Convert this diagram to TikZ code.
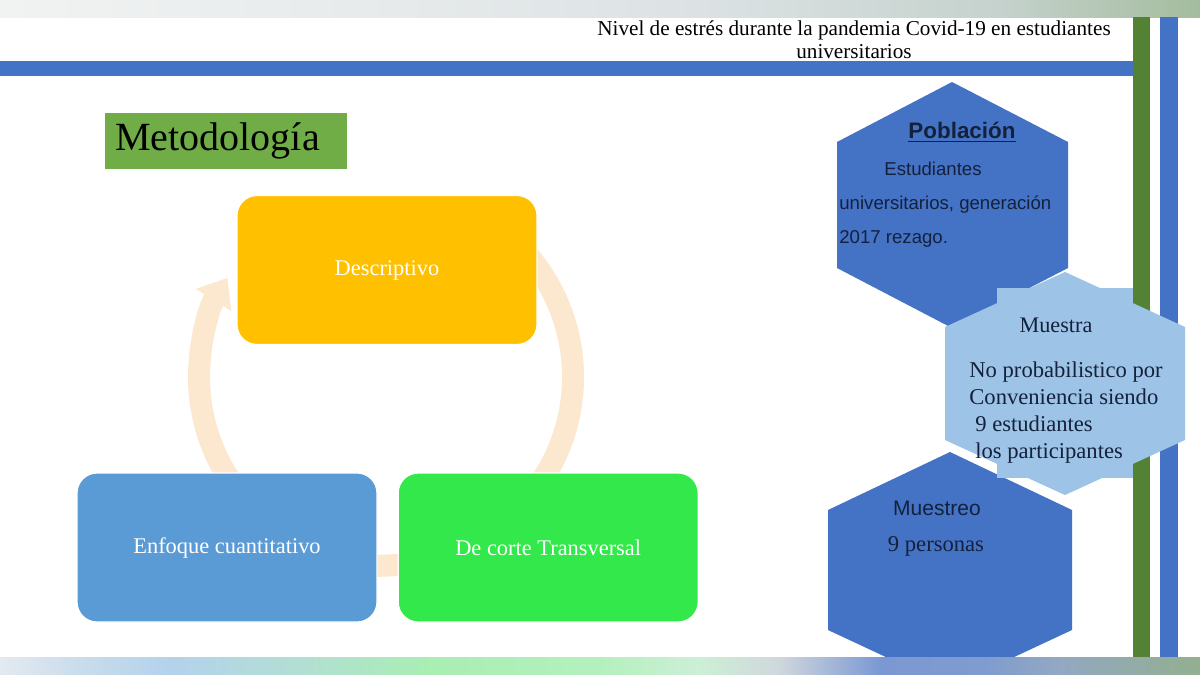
\documentclass[tikz,border=0pt]{standalone}
\usepackage{fontspec}
\setmainfont{Liberation Serif}
\newfontfamily\arialfont{Liberation Sans}
\usetikzlibrary{arrows.meta, positioning}

\definecolor{barblue}{HTML}{4472C4}
\definecolor{bargreen}{HTML}{548235}
\definecolor{titlegreen}{HTML}{70AD47}
\definecolor{descgold}{HTML}{FFC000}
\definecolor{enfblue}{HTML}{5B9BD5}
\definecolor{transgreen}{HTML}{33E84A}
\definecolor{arcpeach}{HTML}{FCE7CF}
\definecolor{hexblue}{HTML}{4472C4}
\definecolor{hexlight}{HTML}{9DC3E6}
\definecolor{inkblue}{HTML}{14213D}
% gradient stops of the top and bottom strips
\definecolor{top0}{HTML}{F1F3F2}
\definecolor{top1}{HTML}{E6EAEB}
\definecolor{top2}{HTML}{DCE2E4}
\definecolor{top3}{HTML}{C5D2CD}
\definecolor{top4}{HTML}{A4BC9E}
\definecolor{bot0}{HTML}{E3EAF0}
\definecolor{bot1}{HTML}{C9DCEB}
\definecolor{bot2}{HTML}{B4D2EC}
\definecolor{bot3}{HTML}{B2DFD3}
\definecolor{bot4}{HTML}{A9EEB3}
\definecolor{bot5}{HTML}{B4F0BE}
\definecolor{bot6}{HTML}{CDEFD6}
\definecolor{bot7}{HTML}{CFD7DD}
\definecolor{bot8}{HTML}{7B98D3}
\definecolor{bot9}{HTML}{7F9BCF}
\definecolor{bot10}{HTML}{93A8C2}
\definecolor{bot11}{HTML}{93AF8F}

\begin{document}
\begin{tikzpicture}[
		x=0.5pt, y=-0.5pt,
		>={Triangle[width=20pt,length=13pt]},
		every node/.style={inner sep=0pt},
		stepbox/.style={draw=white, line width=0.6pt, rounded corners=10pt, minimum width=150pt, minimum height=74.5pt, align=center, text=white, font=\fontsize{11.2}{13}\selectfont},
		cyc/.style={draw=arcpeach, line width=11pt},
		hexink/.style={text=inkblue}
		]
		\useasboundingbox (0,0) rectangle (1200,675);
		\clip (0,0) rectangle (1200,675);
		
		% --- Background and frame strips ---
		\fill[white] (0,0) rectangle (1200,675);
		\foreach \xa/\ca/\xb/\cb in {0/top0/400/top1, 400/top1/700/top2, 700/top2/1000/top3, 1000/top3/1200/top4}
			\shade[left color=\ca, right color=\cb] (\xa,0) rectangle (\xb+0.5,17);
		\fill[barblue] (0,61) rectangle (1133,76);
		\fill[bargreen] (1133,17) rectangle (1150,657);
		\fill[barblue] (1160,17) rectangle (1178,657);
		
		% --- Header ---
		\node[align=center, font=\fontsize{10.6}{11.5}\selectfont] (title) at (854,40) {Nivel de estrés durante la pandemia Covid-19 en estudiantes\\universitarios};
		\node[anchor=west, fill=titlegreen, minimum height=28pt, text width=111pt, inner xsep=5pt, align=left, font=\fontsize{20}{22}\selectfont] (metod) at (105,141) {Metodología};
		
		% --- Cycle ---
		\begin{scope}[shift={(386,377)}, yscale=-1]
			\draw[cyc, ->] (60:187) arc[start angle=60, end angle=-60, radius=187];
			\draw[cyc, ->] (-60:187) arc[start angle=-60, end angle=-120, radius=187];
			\draw[cyc, ->] (240:187) arc[start angle=240, end angle=148, radius=187];
		\end{scope}
		\node[stepbox, fill=descgold] (desc) at (387,270) {Descriptivo};
		\node[stepbox, fill=enfblue] (enf) at (227,547.5) {Enfoque cuantitativo};
		\node[stepbox, fill=transgreen, right=10pt of enf] (trans) {De corte Transversal};
		
		% --- Hexagons ---
		\fill[hexblue] (952,82) -- (1068,142) -- (1068,268) -- (952,328) -- (837,268) -- (837,142) -- cycle;
		\fill[hexblue] (950,452) -- (1072,510) -- (1072,630) -- (950,687) -- (828,630) -- (828,510) -- cycle;
		\fill[hexlight] (1065,272) -- (1185,327) -- (1185,440) -- (1065,495) -- (945,440) -- (945,327) -- cycle;
		\fill[hexlight] (997,288) rectangle (1133,478);
		
		\node[hexink, font=\arialfont\bfseries\fontsize{11.2}{13}\selectfont] (pobl) at (962,132) {\underline{Población}};
		\node[hexink, anchor=north west, align=left, font=\arialfont\fontsize{9.3}{17}\selectfont] (pobltext) at (839,162) {\hspace*{22.5pt}Estudiantes\\universitarios, generación\\2017 rezago.};
		\node[hexink, font=\fontsize{11.1}{13}\selectfont] (muestra) at (1056,325) {Muestra};
		\node[hexink, anchor=north west, align=left, font=\fontsize{11.3}{13.5}\selectfont] (muestratext) at (969,361) {No probabilistico por\\Conveniencia siendo\\\hspace*{3pt}9 estudiantes\\\hspace*{3pt}los participantes};
		\node[hexink, font=\arialfont\fontsize{10.5}{12}\selectfont] (muestreo) at (937,508) {Muestreo};
		\node[hexink, font=\fontsize{11.3}{13}\selectfont] (personas) at (936,546) {9 personas};
		
		% --- Bottom strip ---
		\foreach \xa/\ca/\xb/\cb in {0/bot0/80/bot1, 80/bot1/170/bot2, 170/bot2/300/bot3, 300/bot3/430/bot4, 430/bot4/600/bot5, 600/bot5/700/bot6, 700/bot6/780/bot7, 780/bot7/880/bot8, 880/bot8/980/bot9, 980/bot9/1060/bot10, 1060/bot10/1200/bot11}
			\shade[left color=\ca, right color=\cb] (\xa,657) rectangle (\xb+0.5,675);
	\end{tikzpicture}
\end{document}
